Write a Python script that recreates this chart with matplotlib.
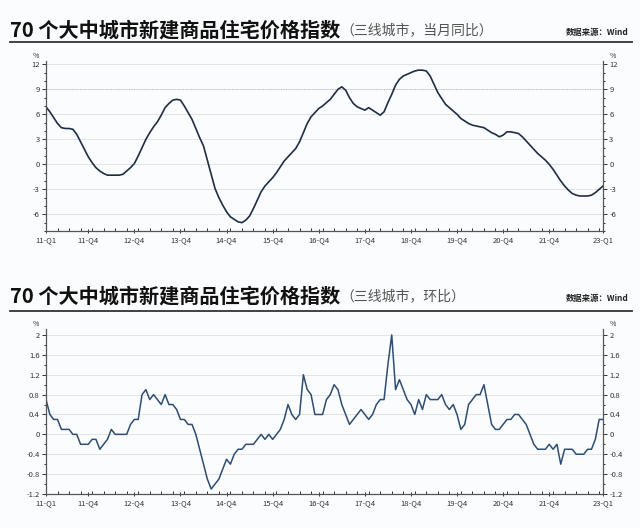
import matplotlib
matplotlib.use('Agg')
import matplotlib.pyplot as plt
import numpy as np

plt.rcParams['font.family'] = ['Noto Sans CJK SC', 'DejaVu Sans']

# 月度数据: 2011-01 ~ 2023-02
tick_pos = [0, 11, 23, 35, 47, 59, 71, 83, 95, 107, 119, 131, 145]
tick_labels = ['11-Q1', '11-Q4', '12-Q4', '13-Q4', '14-Q4', '15-Q4', '16-Q4',
               '17-Q4', '18-Q4', '19-Q4', '20-Q4', '21-Q4', '23-Q1']

# 当月同比 (%)
yoy = [6.9, 6.3, 5.6, 4.9, 4.4, 4.3, 4.3, 4.2, 3.6, 2.7,
       1.8, 0.9, 0.2, -0.4, -0.8, -1.1, -1.3, -1.3, -1.3, -1.3,
       -1.2, -0.8, -0.4, 0.1, 1.0, 2.0, 3.0, 3.8, 4.5, 5.1,
       5.9, 6.8, 7.3, 7.7, 7.8, 7.7, 7.0, 6.2, 5.4, 4.3,
       3.2, 2.2, 0.5, -1.2, -2.9, -4.0, -4.9, -5.7, -6.3, -6.6,
       -6.9, -7.0, -6.7, -6.2, -5.3, -4.3, -3.3, -2.6, -2.1, -1.6,
       -1.0, -0.3, 0.4, 0.9, 1.4, 1.9, 2.7, 3.8, 4.9, 5.7,
       6.2, 6.7, 7.0, 7.4, 7.8, 8.4, 9.0, 9.3, 8.9, 8.0,
       7.3, 6.9, 6.7, 6.5, 6.8, 6.5, 6.2, 5.9, 6.3, 7.4,
       8.4, 9.5, 10.2, 10.6, 10.8, 11.0, 11.2, 11.3, 11.3, 11.2,
       10.6, 9.6, 8.6, 7.9, 7.2, 6.8, 6.4, 6.0, 5.5, 5.2,
       4.9, 4.7, 4.6, 4.5, 4.4, 4.1, 3.8, 3.6, 3.3, 3.5,
       3.9, 3.9, 3.8, 3.7, 3.3, 2.8, 2.3, 1.8, 1.3, 0.9,
       0.5, 0.0, -0.6, -1.3, -2.0, -2.6, -3.1, -3.5, -3.7, -3.8,
       -3.8, -3.8, -3.7, -3.4, -3.0, -2.6]

# 环比 (%)
mom = [0.7, 0.4, 0.3, 0.3, 0.1, 0.1, 0.1, 0.0, 0.0, -0.2,
       -0.2, -0.2, -0.1, -0.1, -0.3, -0.2, -0.1, 0.1, 0.0, 0.0,
       0.0, 0.0, 0.2, 0.3, 0.3, 0.8, 0.9, 0.7, 0.8, 0.7,
       0.6, 0.8, 0.6, 0.6, 0.5, 0.3, 0.3, 0.2, 0.2, 0.0,
       -0.3, -0.6, -0.9, -1.1, -1.0, -0.9, -0.7, -0.5, -0.6, -0.4,
       -0.3, -0.3, -0.2, -0.2, -0.2, -0.1, 0.0, -0.1, 0.0, -0.1,
       0.0, 0.1, 0.3, 0.6, 0.4, 0.3, 0.4, 1.2, 0.9, 0.8,
       0.4, 0.4, 0.4, 0.7, 0.8, 1.0, 0.9, 0.6, 0.4, 0.2,
       0.3, 0.4, 0.5, 0.4, 0.3, 0.4, 0.6, 0.7, 0.7, 1.4,
       2.0, 0.9, 1.1, 0.9, 0.7, 0.6, 0.4, 0.7, 0.5, 0.8,
       0.7, 0.7, 0.7, 0.8, 0.6, 0.5, 0.6, 0.4, 0.1, 0.2,
       0.6, 0.7, 0.8, 0.8, 1.0, 0.6, 0.2, 0.1, 0.1, 0.2,
       0.3, 0.3, 0.4, 0.4, 0.3, 0.2, 0.0, -0.2, -0.3, -0.3,
       -0.3, -0.2, -0.3, -0.2, -0.6, -0.3, -0.3, -0.3, -0.4, -0.4,
       -0.4, -0.3, -0.3, -0.1, 0.3, 0.3]

yoy_ticks = [-6, -3, 0, 3, 6, 9, 12]
mom_ticks = [-1.2, -0.8, -0.4, 0, 0.4, 0.8, 1.2, 1.6, 2]
mom_labels = ['-1.2', '-0.8', '-0.4', '0', '0.4', '0.8', '1.2', '1.6', '2']

fig = plt.figure(figsize=(6.4, 5.28), dpi=100, facecolor='#fbfcfd')


def setup_axis(ax, yticks, ylabels, ylim, minor_step):
    ax.set_facecolor('#fbfcfd')
    ax.set_xlim(0, 145)
    ax.set_ylim(*ylim)
    ax.set_xticks(tick_pos)
    ax.set_xticklabels(tick_labels)
    ax.set_xticks(np.arange(0, 146, 3), minor=True)
    ax.set_yticks(yticks)
    ax.set_yticklabels(ylabels)
    ax.set_yticks(np.arange(ylim[0], ylim[1], minor_step), minor=True)
    ax.spines['top'].set_visible(False)
    for s in ['left', 'right', 'bottom']:
        ax.spines[s].set_color('#555555')
        ax.spines[s].set_linewidth(0.9)
    ax.tick_params(axis='both', which='both', labelsize=5.5, colors='#333333', width=0.7)
    ax.tick_params(axis='y', which='major', length=3, left=True, right=True,
                   labelleft=True, labelright=True, pad=1.5)
    ax.tick_params(axis='y', which='minor', length=1.5, left=True, right=True)
    ax.tick_params(axis='x', which='major', length=3, direction='inout', pad=2)
    ax.tick_params(axis='x', which='minor', length=2, direction='in')
    for t in yticks:
        if t != ylim[0]:
            ax.axhline(t, color='#e2e4e8', linewidth=0.7, zorder=0)
    ax.text(-0.012, 1.005, '%', transform=ax.transAxes, fontsize=5, ha='right', va='bottom', color='#333333')
    ax.text(1.012, 1.005, '%', transform=ax.transAxes, fontsize=5, ha='left', va='bottom', color='#333333')


months = np.arange(len(yoy))

# 上图: 当月同比
ax1 = fig.add_axes([0.0719, 0.5625, 0.8703, 0.322])
setup_axis(ax1, yoy_ticks, [str(t) for t in yoy_ticks], (-8, 12.4), 1)
ax1.axhline(9, color='#b8bcc4', linewidth=0.7, linestyle=':', zorder=0)
ax1.plot(months, yoy, color='#1f2d45', linewidth=1.2)

# 下图: 环比
ax2 = fig.add_axes([0.0719, 0.0644, 0.8703, 0.3125])
setup_axis(ax2, mom_ticks, mom_labels, (-1.2, 2.12), 0.2)
ax2.plot(np.arange(len(mom)), mom, color='#2e4d73', linewidth=1.1)

# 标题
for ytxt, yline, sub in [(528 - 30, 528 - 42, '（三线城市，当月同比）'),
                         (528 - 296, 528 - 311, '（三线城市，环比）')]:
    t = fig.text(10 / 640, ytxt / 528, '70 个大中城市新建商品住宅价格指数', fontsize=14.5,
                 fontweight='black', color='#111111', va='center', ha='left')
    fig.canvas.draw()
    bb = t.get_window_extent()
    fig.text(bb.x1 / 640, ytxt / 528, sub, fontsize=10, color='#555555', va='center', ha='left')
    fig.text(629 / 640, (ytxt - 2) / 528, '数据来源：Wind', fontsize=6, fontweight='bold',
             color='#222222', va='center', ha='right')
    fig.add_artist(plt.Line2D([10 / 640, 632 / 640], [yline / 528, yline / 528],
                              color='#333333', linewidth=1.3, transform=fig.transFigure))

fig.savefig('out.png', dpi=100, facecolor=fig.get_facecolor())
